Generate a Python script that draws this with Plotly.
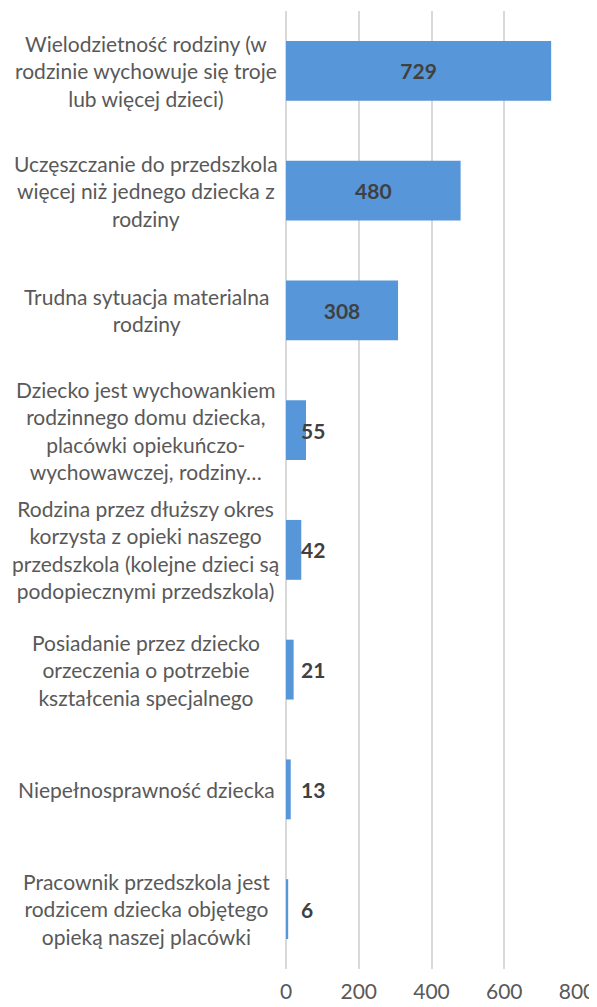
import plotly.graph_objects as go

categories = [
    "Wielodzietność rodziny (w<br>rodzinie wychowuje się troje<br>lub więcej dzieci)",
    "Uczęszczanie do przedszkola<br>więcej niż jednego dziecka z<br>rodziny",
    "Trudna sytuacja materialna<br>rodziny",
    "Dziecko jest wychowankiem<br>rodzinnego domu dziecka,<br>placówki opiekuńczo-<br>wychowawczej, rodziny…",
    "Rodzina przez dłuższy okres<br>korzysta z opieki naszego<br>przedszkola (kolejne dzieci są<br>podopiecznymi przedszkola)",
    "Posiadanie przez dziecko<br>orzeczenia o potrzebie<br>kształcenia specjalnego",
    "Niepełnosprawność dziecka",
    "Pracownik przedszkola jest<br>rodzicem dziecka objętego<br>opieką naszej placówki",
]
values = [729, 480, 308, 55, 42, 21, 13, 6]
x_ticks = [0, 200, 400, 600, 800]

# page body has an 8px default margin, so the figure is slightly smaller
W, H = 589, 999
ml, mr, mt, mb = 278, 20, 3, 38

FONT = "Lato, 'Open Sans', sans-serif"
inside = [v >= 100 for v in values]

fig = go.Figure()
fig.add_trace(go.Bar(
    y=list(range(len(categories))),
    x=values,
    orientation="h",
    marker=dict(color="#5796d8", line=dict(width=0)),
    text=[str(v) if ins else "" for v, ins in zip(values, inside)],
    textposition="inside",
    insidetextanchor="middle",
    textfont=dict(family=FONT, size=21, color="#404040", weight="bold"),
    hoverinfo="skip",
))

annotations = []
for i, (v, ins) in enumerate(zip(values, inside)):
    if not ins:
        annotations.append(dict(
            x=0, y=i, xref="x", yref="y", text=f"<b>{v}</b>",
            showarrow=False, xanchor="left", yanchor="middle", xshift=13,
            font=dict(family=FONT, size=21, color="#404040"),
        ))
label_center = 138
plot_w = W - ml - mr
for i, c in enumerate(categories):
    annotations.append(dict(
        x=(label_center - ml) / plot_w, y=i, xref="paper", yref="y",
        text=c, showarrow=False, xanchor="center", yanchor="middle",
        align="center",
        font=dict(family=FONT, size=21, color="#595959"),
    ))

fig.update_layout(
    width=W, height=H,
    margin=dict(l=ml, r=mr, t=mt, b=mb, autoexpand=False),
    paper_bgcolor="white", plot_bgcolor="white",
    showlegend=False,
    bargap=0.5,
    annotations=annotations,
    xaxis=dict(
        range=[0, 800], tickvals=x_ticks, ticktext=[str(t) for t in x_ticks],
        showgrid=True, gridcolor="#d9d9d9", gridwidth=2,
        zeroline=True, zerolinecolor="#d9d9d9", zerolinewidth=2,
        showline=False, automargin=False,
        tickfont=dict(family=FONT, size=21, color="#595959"),
        ticklabelstandoff=8,
    ),
    yaxis=dict(
        range=[len(categories) - 0.5, -0.5], automargin=False,
        showticklabels=False, showgrid=False, zeroline=False, showline=False,
    ),
)

fig.write_html("out.html")
